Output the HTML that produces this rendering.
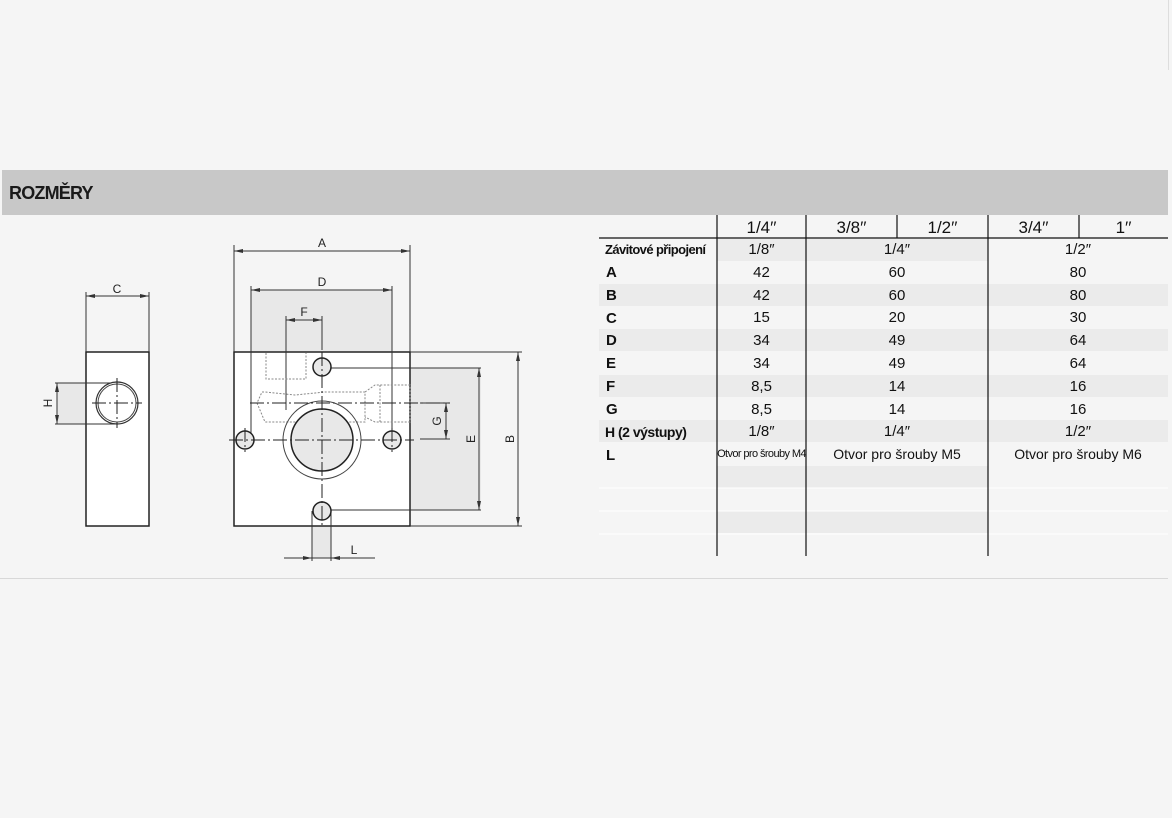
<!DOCTYPE html>
<html><head><meta charset="utf-8"><style>
body{margin:0;width:1172px;height:818px;background:#f5f5f5;position:relative;overflow:hidden;font-family:"Liberation Sans",sans-serif}
.bar{position:absolute;left:2px;top:170px;width:1166px;height:45px;background:#c8c8c8}
.bar span{position:absolute;left:7px;top:13px;font-weight:bold;font-size:18px;color:#1a1a1a;letter-spacing:-0.8px;font-family:"Liberation Sans",sans-serif}
.t{position:absolute;font-family:"Liberation Sans",sans-serif;font-size:15px;color:#111;white-space:nowrap}
.c{text-align:center}
</style></head><body>
<div class="bar"><span>ROZMĚRY</span></div>
<div style="position:absolute;left:0;top:578px;width:1168px;height:1px;background:#d8d8d8"></div>
<div style="position:absolute;left:1168px;top:0;width:1px;height:70px;background:#ddd"></div>
<svg width="1172" height="818" style="position:absolute;left:0;top:0">
<g fill="#ebebeb">
<rect x="717" y="239" width="271" height="22"/>
<rect x="599" y="284" width="569" height="22"/>
<rect x="599" y="329" width="569" height="22"/>
<rect x="599" y="375" width="569" height="22"/>
<rect x="599" y="420" width="569" height="22"/>
<rect x="717" y="466" width="271" height="22"/>
<rect x="717" y="511" width="271" height="22"/>
</g>
<g stroke="#fff" stroke-width="1">
<line x1="599" y1="488" x2="1168" y2="488"/><line x1="599" y1="511" x2="1168" y2="511"/><line x1="599" y1="534" x2="1168" y2="534"/>
</g>
<g stroke="#111" stroke-width="1.2">
<line x1="599" y1="238" x2="1168" y2="238"/>
<line x1="717" y1="215" x2="717" y2="556"/>
<line x1="806" y1="215" x2="806" y2="556"/>
<line x1="897" y1="215" x2="897" y2="238"/>
<line x1="988" y1="215" x2="988" y2="556"/>
<line x1="1079" y1="215" x2="1079" y2="238"/>
</g>
<g fill="#e8e8e8">
<rect x="251" y="290" width="141" height="62"/>
<rect x="410" y="368" width="71" height="142"/>
<rect x="57" y="383" width="29" height="41"/>
<rect x="312" y="526" width="19" height="32"/>
</g>
<g fill="#fff" stroke="#222" stroke-width="1.5">
<rect x="86" y="352" width="63" height="174"/>
<rect x="234" y="352" width="176" height="174"/>
</g>
<g fill="none" stroke="#333" stroke-width="1">
<line x1="234" y1="251" x2="410" y2="251"/><line x1="234" y1="245" x2="234" y2="352"/><line x1="410" y1="245" x2="410" y2="352"/>
<line x1="251" y1="290" x2="392" y2="290"/><line x1="251" y1="286" x2="251" y2="440"/><line x1="392" y1="286" x2="392" y2="440"/>
<line x1="286" y1="320" x2="322" y2="320"/><line x1="286" y1="316" x2="286" y2="410"/><line x1="322" y1="316" x2="322" y2="350"/>
<line x1="86" y1="296" x2="149" y2="296"/><line x1="86" y1="292" x2="86" y2="352"/><line x1="149" y1="292" x2="149" y2="352"/>
<line x1="55" y1="383" x2="117" y2="383"/><line x1="55" y1="424" x2="117" y2="424"/><line x1="57" y1="383" x2="57" y2="424"/>
<line x1="330" y1="368" x2="481" y2="368"/><line x1="330" y1="510" x2="481" y2="510"/><line x1="479" y1="368" x2="479" y2="510"/>
<line x1="410" y1="352" x2="522" y2="352"/><line x1="410" y1="526" x2="522" y2="526"/><line x1="518" y1="352" x2="518" y2="526"/>
<line x1="446" y1="403" x2="446" y2="439"/><line x1="420" y1="403" x2="450" y2="403"/><line x1="420" y1="439" x2="450" y2="439"/>
<line x1="312" y1="511" x2="312" y2="561"/><line x1="331" y1="511" x2="331" y2="561"/><line x1="284" y1="558" x2="375" y2="558"/>
</g>
<g fill="#333">
<path d="M234 251l9-2v4z"/><path d="M410 251l-9-2v4z"/>
<path d="M251 290l9-2v4z"/><path d="M392 290l-9-2v4z"/>
<path d="M286 320l9-2v4z"/><path d="M322 320l-9-2v4z"/>
<path d="M86 296l9-2v4z"/><path d="M149 296l-9-2v4z"/>
<path d="M57 383l-2 9h4z"/><path d="M57 424l-2-9h4z"/>
<path d="M479 368l-2 9h4z"/><path d="M479 510l-2-9h4z"/>
<path d="M518 352l-2 9h4z"/><path d="M518 526l-2-9h4z"/>
<path d="M446 403l-2 9h4z"/><path d="M446 439l-2-9h4z"/>
<path d="M312 558l-9-2v4z"/><path d="M331 558l9-2v4z"/>
</g>
<g fill="none" stroke="#888" stroke-width="1" stroke-dasharray="2 1.5">
<path d="M266 353v26h40v-26"/><path d="M262 392h3l30 3l30-3h40v30h-40h-60l-8-19z"/>
<path d="M365 392l10-7h35v37h-35l-10-5"/><line x1="380" y1="385" x2="380" y2="422"/>
</g>
<g fill="#e8e8e8" stroke="#222" stroke-width="1.5">
<circle cx="322" cy="367" r="9"/><circle cx="245" cy="440" r="9"/><circle cx="392" cy="440" r="9"/><circle cx="322" cy="511" r="9"/>
<circle cx="322" cy="440" r="31"/>
</g>
<circle cx="322" cy="440" r="39" fill="none" stroke="#444" stroke-width="1"/>
<circle cx="117" cy="403" r="21" fill="#fff" stroke="#333" stroke-width="1.2"/>
<circle cx="117" cy="403" r="19" fill="none" stroke="#444" stroke-width="1"/>
<g stroke="#222" stroke-width="1" stroke-dasharray="14 3 2 3">
<line x1="322" y1="352" x2="322" y2="526"/><line x1="229" y1="440" x2="414" y2="440"/>
<line x1="250" y1="403" x2="450" y2="403"/><line x1="117" y1="378" x2="117" y2="428"/>
<line x1="92" y1="403" x2="142" y2="403"/><line x1="245" y1="428" x2="245" y2="452"/><line x1="392" y1="428" x2="392" y2="452"/>
</g>
<g font-family="Liberation Sans,sans-serif" font-size="12" fill="#222" text-anchor="middle">
<text x="322" y="247">A</text><text x="322" y="286">D</text><text x="304" y="316">F</text>
<text x="117" y="293">C</text><text x="354" y="554">L</text>
<text transform="translate(52,403) rotate(-90)">H</text>
<text transform="translate(441,421) rotate(-90)">G</text>
<text transform="translate(475,439) rotate(-90)">E</text>
<text transform="translate(514,439) rotate(-90)">B</text>
</g>
</svg>
<div class="t c" style="left:717px;top:218px;width:89px;font-size:17px">1/4′′</div>
<div class="t c" style="left:806px;top:218px;width:91px;font-size:17px">3/8′′</div>
<div class="t c" style="left:897px;top:218px;width:91px;font-size:17px">1/2′′</div>
<div class="t c" style="left:988px;top:218px;width:91px;font-size:17px">3/4′′</div>
<div class="t c" style="left:1079px;top:218px;width:89px;font-size:17px">1′′</div>
<div class="t" style="left:605px;top:242px;font-weight:bold;font-size:13px;letter-spacing:-0.6px">Závitové připojení</div>
<div class="t" style="left:606px;top:264px;font-weight:bold">A</div>
<div class="t" style="left:606px;top:287px;font-weight:bold">B</div>
<div class="t" style="left:606px;top:310px;font-weight:bold">C</div>
<div class="t" style="left:606px;top:332px;font-weight:bold">D</div>
<div class="t" style="left:606px;top:355px;font-weight:bold">E</div>
<div class="t" style="left:606px;top:378px;font-weight:bold">F</div>
<div class="t" style="left:606px;top:401px;font-weight:bold">G</div>
<div class="t" style="left:605px;top:424px;font-weight:bold;font-size:14px;letter-spacing:-0.5px">H (2 výstupy)</div>
<div class="t" style="left:606px;top:447px;font-weight:bold">L</div>
<div style="position:absolute;left:717px;top:241px;width:89px">
<div class="t c" style="position:relative;width:89px;height:22.8px">1/8″</div>
<div class="t c" style="position:relative;width:89px;height:22.8px">42</div>
<div class="t c" style="position:relative;width:89px;height:22.8px">42</div>
<div class="t c" style="position:relative;width:89px;height:22.8px">15</div>
<div class="t c" style="position:relative;width:89px;height:22.8px">34</div>
<div class="t c" style="position:relative;width:89px;height:22.8px">34</div>
<div class="t c" style="position:relative;width:89px;height:22.8px">8,5</div>
<div class="t c" style="position:relative;width:89px;height:22.8px">8,5</div>
<div class="t c" style="position:relative;width:89px;height:22.8px">1/8″</div>
<div class="t c" style="position:relative;width:89px;height:22.8px;font-size:11px;letter-spacing:-0.6px;top:2px">Otvor pro šrouby M4</div>
</div>
<div style="position:absolute;left:806px;top:241px;width:182px">
<div class="t c" style="position:relative;width:182px;height:22.8px">1/4″</div>
<div class="t c" style="position:relative;width:182px;height:22.8px">60</div>
<div class="t c" style="position:relative;width:182px;height:22.8px">60</div>
<div class="t c" style="position:relative;width:182px;height:22.8px">20</div>
<div class="t c" style="position:relative;width:182px;height:22.8px">49</div>
<div class="t c" style="position:relative;width:182px;height:22.8px">49</div>
<div class="t c" style="position:relative;width:182px;height:22.8px">14</div>
<div class="t c" style="position:relative;width:182px;height:22.8px">14</div>
<div class="t c" style="position:relative;width:182px;height:22.8px">1/4″</div>
<div class="t c" style="position:relative;width:182px;height:22.8px;font-size:14px">Otvor pro šrouby M5</div>
</div>
<div style="position:absolute;left:988px;top:241px;width:180px">
<div class="t c" style="position:relative;width:180px;height:22.8px">1/2″</div>
<div class="t c" style="position:relative;width:180px;height:22.8px">80</div>
<div class="t c" style="position:relative;width:180px;height:22.8px">80</div>
<div class="t c" style="position:relative;width:180px;height:22.8px">30</div>
<div class="t c" style="position:relative;width:180px;height:22.8px">64</div>
<div class="t c" style="position:relative;width:180px;height:22.8px">64</div>
<div class="t c" style="position:relative;width:180px;height:22.8px">16</div>
<div class="t c" style="position:relative;width:180px;height:22.8px">16</div>
<div class="t c" style="position:relative;width:180px;height:22.8px">1/2″</div>
<div class="t c" style="position:relative;width:180px;height:22.8px;font-size:14px">Otvor pro šrouby M6</div>
</div>
</body></html>
